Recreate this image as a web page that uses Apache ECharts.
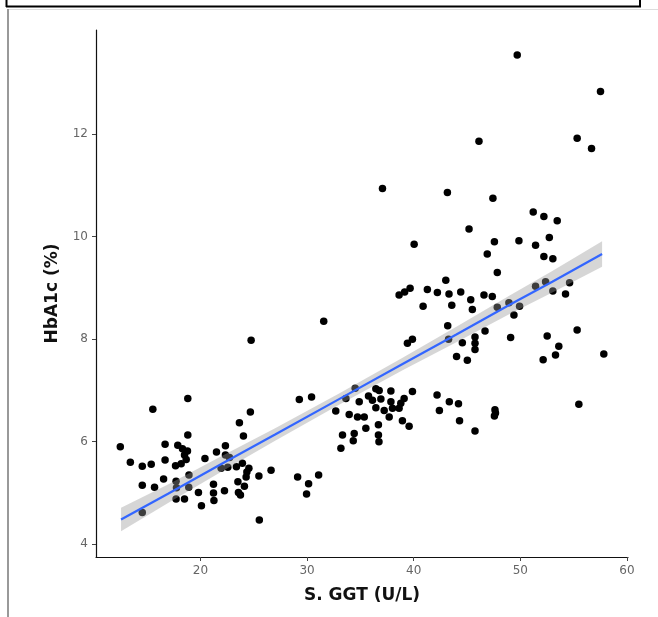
<!DOCTYPE html>
<html>
<head>
    <meta charset="utf-8">
    <script type="text/javascript" src="https://cdn.jsdelivr.net/npm/echarts@6/dist/echarts.min.js"></script>
    <style>
        html, body { margin: 0; padding: 0; background: #fff; }
    </style>
</head>
<body>
    <div id="main" style="width: 658px;height:617px;"></div>
    <script type="text/javascript">
    // S. GGT (U/L) vs HbA1c (%)
    let ggt = [
        12.48, 13.42, 14.54, 15.38, 14.54, 15.69, 14.54, 15.53, 16.68, 16.68,
        16.54, 17.87, 18.31, 18.78, 18.50, 18.66, 17.66, 18.19, 18.81, 18.81,
        17.71, 18.92, 18.90, 17.71, 18.50, 19.81, 20.09, 20.42, 21.50, 22.34,
        22.34, 22.56, 21.94, 21.22, 21.22, 21.26, 22.25, 23.37, 23.51, 23.56,
        23.75, 23.93, 24.35, 24.28, 24.12, 24.54, 24.68, 23.65, 24.03, 25.48,
        26.62, 25.52, 24.75, 22.72, 17.75, 29.11, 30.14, 31.08, 29.95, 29.27,
        30.42, 31.56, 32.69, 33.17, 33.32, 34.42, 34.33, 33.64, 33.95, 34.73,
        35.36, 34.51, 34.89, 35.76, 36.13, 36.45, 36.76, 36.92, 36.45, 35.51,
        36.69, 36.69, 36.74, 37.23, 37.86, 37.86, 38.01, 37.70, 38.63, 38.79,
        39.10, 39.88, 38.94, 39.57, 37.07, 38.63, 39.15, 39.66, 39.41, 39.88,
        40.04, 40.88, 41.28, 42.22, 43.01, 43.31, 43.57, 44.41, 45.35, 45.50,
        46.59, 47.37, 43.19, 43.27, 44.02, 44.56, 45.75, 45.75, 45.75, 46.69,
        45.03, 42.19, 43.34, 42.41, 44.20, 44.30, 45.75, 47.62, 47.67, 47.57,
        47.84, 47.84, 48.93, 49.93, 49.40, 49.09, 46.90, 47.57, 49.87, 51.43,
        52.72, 52.21, 53.05, 51.43, 52.37, 53.05, 54.24, 54.62, 52.52, 55.33,
        53.61, 53.30, 52.14, 57.83, 55.49, 49.71, 57.52, 46.12, 55.33, 56.68,
        43.16, 47.43, 51.21, 52.21, 53.46, 45.19
    ]
    let hba1c = [
        5.90, 5.60, 5.52, 5.56, 5.15, 5.11, 4.62, 6.63, 5.95, 5.64,
        5.27, 5.93, 5.86, 5.82, 5.74, 5.65, 5.53, 5.57, 6.84, 6.13,
        5.23, 5.35, 5.11, 4.88, 4.88, 5.01, 4.75, 5.67, 5.80, 5.92,
        5.74, 5.50, 5.48, 5.17, 5.00, 4.85, 5.04, 5.51, 5.22, 5.01,
        4.96, 5.58, 5.41, 5.31, 5.13, 5.48, 6.58, 6.37, 6.11, 5.33,
        5.44, 4.47, 7.98, 5.69, 5.10, 5.31, 5.18, 5.35, 4.98, 6.82,
        6.87, 8.35, 6.60, 5.87, 6.13, 6.16, 6.02, 6.84, 6.53, 6.48,
        6.48, 7.04, 6.78, 6.89, 6.81, 7.03, 7.00, 6.83, 6.66, 6.26,
        6.33, 6.13, 6.00, 6.61, 6.99, 6.78, 6.65, 6.48, 6.65, 6.75,
        6.84, 6.98, 6.41, 6.30, 10.94, 8.86, 8.92, 8.99, 7.92, 8.00,
        9.85, 8.64, 8.97, 8.91, 9.15, 8.88, 8.66, 8.92, 8.77, 8.58,
        8.86, 8.83, 8.26, 8.00, 7.66, 7.93, 8.04, 7.92, 7.80, 8.16,
        7.59, 6.91, 6.78, 6.61, 6.74, 6.41, 6.21, 6.62, 6.56, 6.50,
        9.30, 8.62, 8.71, 8.64, 8.47, 8.03, 9.66, 9.90, 9.92, 9.83,
        9.98, 9.61, 9.57, 9.03, 9.12, 8.94, 8.88, 9.10, 8.06, 8.18,
        7.86, 7.69, 7.60, 7.71, 6.73, 13.54, 12.83, 11.86, 11.92, 11.72,
        10.86, 10.75, 10.48, 10.39, 10.31, 10.15
    ]
    // fitted line and its confidence band
    let bandX = [12.55, 17, 22, 27, 33, 39, 44, 49, 53, 57.67]
    let fitY = [4.48, 4.99, 5.57, 6.14, 6.83, 7.52, 8.09, 8.67, 9.12, 9.66]
    let bandLow = [4.25, 4.81, 5.42, 6.02, 6.72, 7.40, 7.94, 8.49, 8.91, 9.41]
    let bandHigh = [4.71, 5.17, 5.72, 6.26, 6.94, 7.64, 8.24, 8.85, 9.33, 9.91]
    let xTicks = [20, 30, 40, 50, 60]
    let yTicks = [4, 6, 8, 10, 12]

    var myChart = echarts.init(document.getElementById('main'))

    let axisCommon = {
        axisLine: { show: true, onZero: false, lineStyle: { color: '#111', width: 1.2 } },
        axisTick: { show: true, length: 4, lineStyle: { color: '#444' } },
        splitLine: { show: false },
        nameLocation: 'middle',
        nameTextStyle: { fontFamily: 'DejaVu Sans', fontWeight: 'bold', fontSize: 17, color: '#111' }
    }

    option = {
        animation: false,
        backgroundColor: '#fff',
        grid: { left: 96, right: 30, top: 30, bottom: 60 },
        xAxis: Object.assign({}, axisCommon, {
            type: 'value',
            min: 10.2,
            max: 60.1,
            name: 'S. GGT (U/L)',
            nameGap: 30,
            axisTick: Object.assign({}, axisCommon.axisTick, { customValues: xTicks }),
            axisLabel: { customValues: xTicks, margin: 8, color: '#666', fontSize: 12, fontFamily: 'DejaVu Sans' }
        }),
        yAxis: Object.assign({}, axisCommon, {
            type: 'value',
            min: 3.75,
            max: 14.03,
            name: 'HbA1c (%)',
            nameGap: 35,
            axisTick: Object.assign({}, axisCommon.axisTick, { customValues: yTicks }),
            axisLabel: { customValues: yTicks, margin: 8, color: '#666', fontSize: 12, fontFamily: 'DejaVu Sans' }
        }),
        graphic: [
            { type: 'line', shape: { x1: 6, y1: 6.5, x2: 641, y2: 6.5 }, style: { stroke: '#000', lineWidth: 2 } },
            { type: 'line', shape: { x1: 6.5, y1: 0, x2: 6.5, y2: 7 }, style: { stroke: '#000', lineWidth: 2 } },
            { type: 'line', shape: { x1: 640, y1: 0, x2: 640, y2: 7 }, style: { stroke: '#000', lineWidth: 2 } },
            { type: 'line', shape: { x1: 8, y1: 9.5, x2: 658, y2: 9.5 }, style: { stroke: '#ddd', lineWidth: 1 } },
            { type: 'line', shape: { x1: 8, y1: 9, x2: 8, y2: 617 }, style: { stroke: '#999', lineWidth: 2 } }
        ],
        series: [{
            name: 'points',
            type: 'scatter',
            symbolSize: 7.5,
            itemStyle: { color: '#000', opacity: 1 },
            data: ggt.map((x, i) => [x, hba1c[i]]),
            z: 2
        }, {
            name: 'band',
            type: 'custom',
            data: bandX.map((x, i) => [x, bandLow[i], bandHigh[i]]),
            encode: { x: 0, y: [1, 2] },
            renderItem: function (params, api) {
                if (params.dataIndex !== 0) return
                let pts = []
                for (let i = 0; i < bandX.length; i++) pts.push(api.coord([bandX[i], bandHigh[i]]))
                for (let i = bandX.length - 1; i >= 0; i--) pts.push(api.coord([bandX[i], bandLow[i]]))
                return {
                    type: 'polygon',
                    shape: { points: pts },
                    style: { fill: 'rgba(153,153,153,0.4)' }
                }
            },
            z: 3
        }, {
            name: 'fit',
            type: 'line',
            showSymbol: false,
            data: bandX.map((x, i) => [x, fitY[i]]),
            lineStyle: { color: '#3366FF', width: 2.2 },
            z: 4
        }]
    }
    myChart.setOption(option)
    </script>
</body>
</html>
